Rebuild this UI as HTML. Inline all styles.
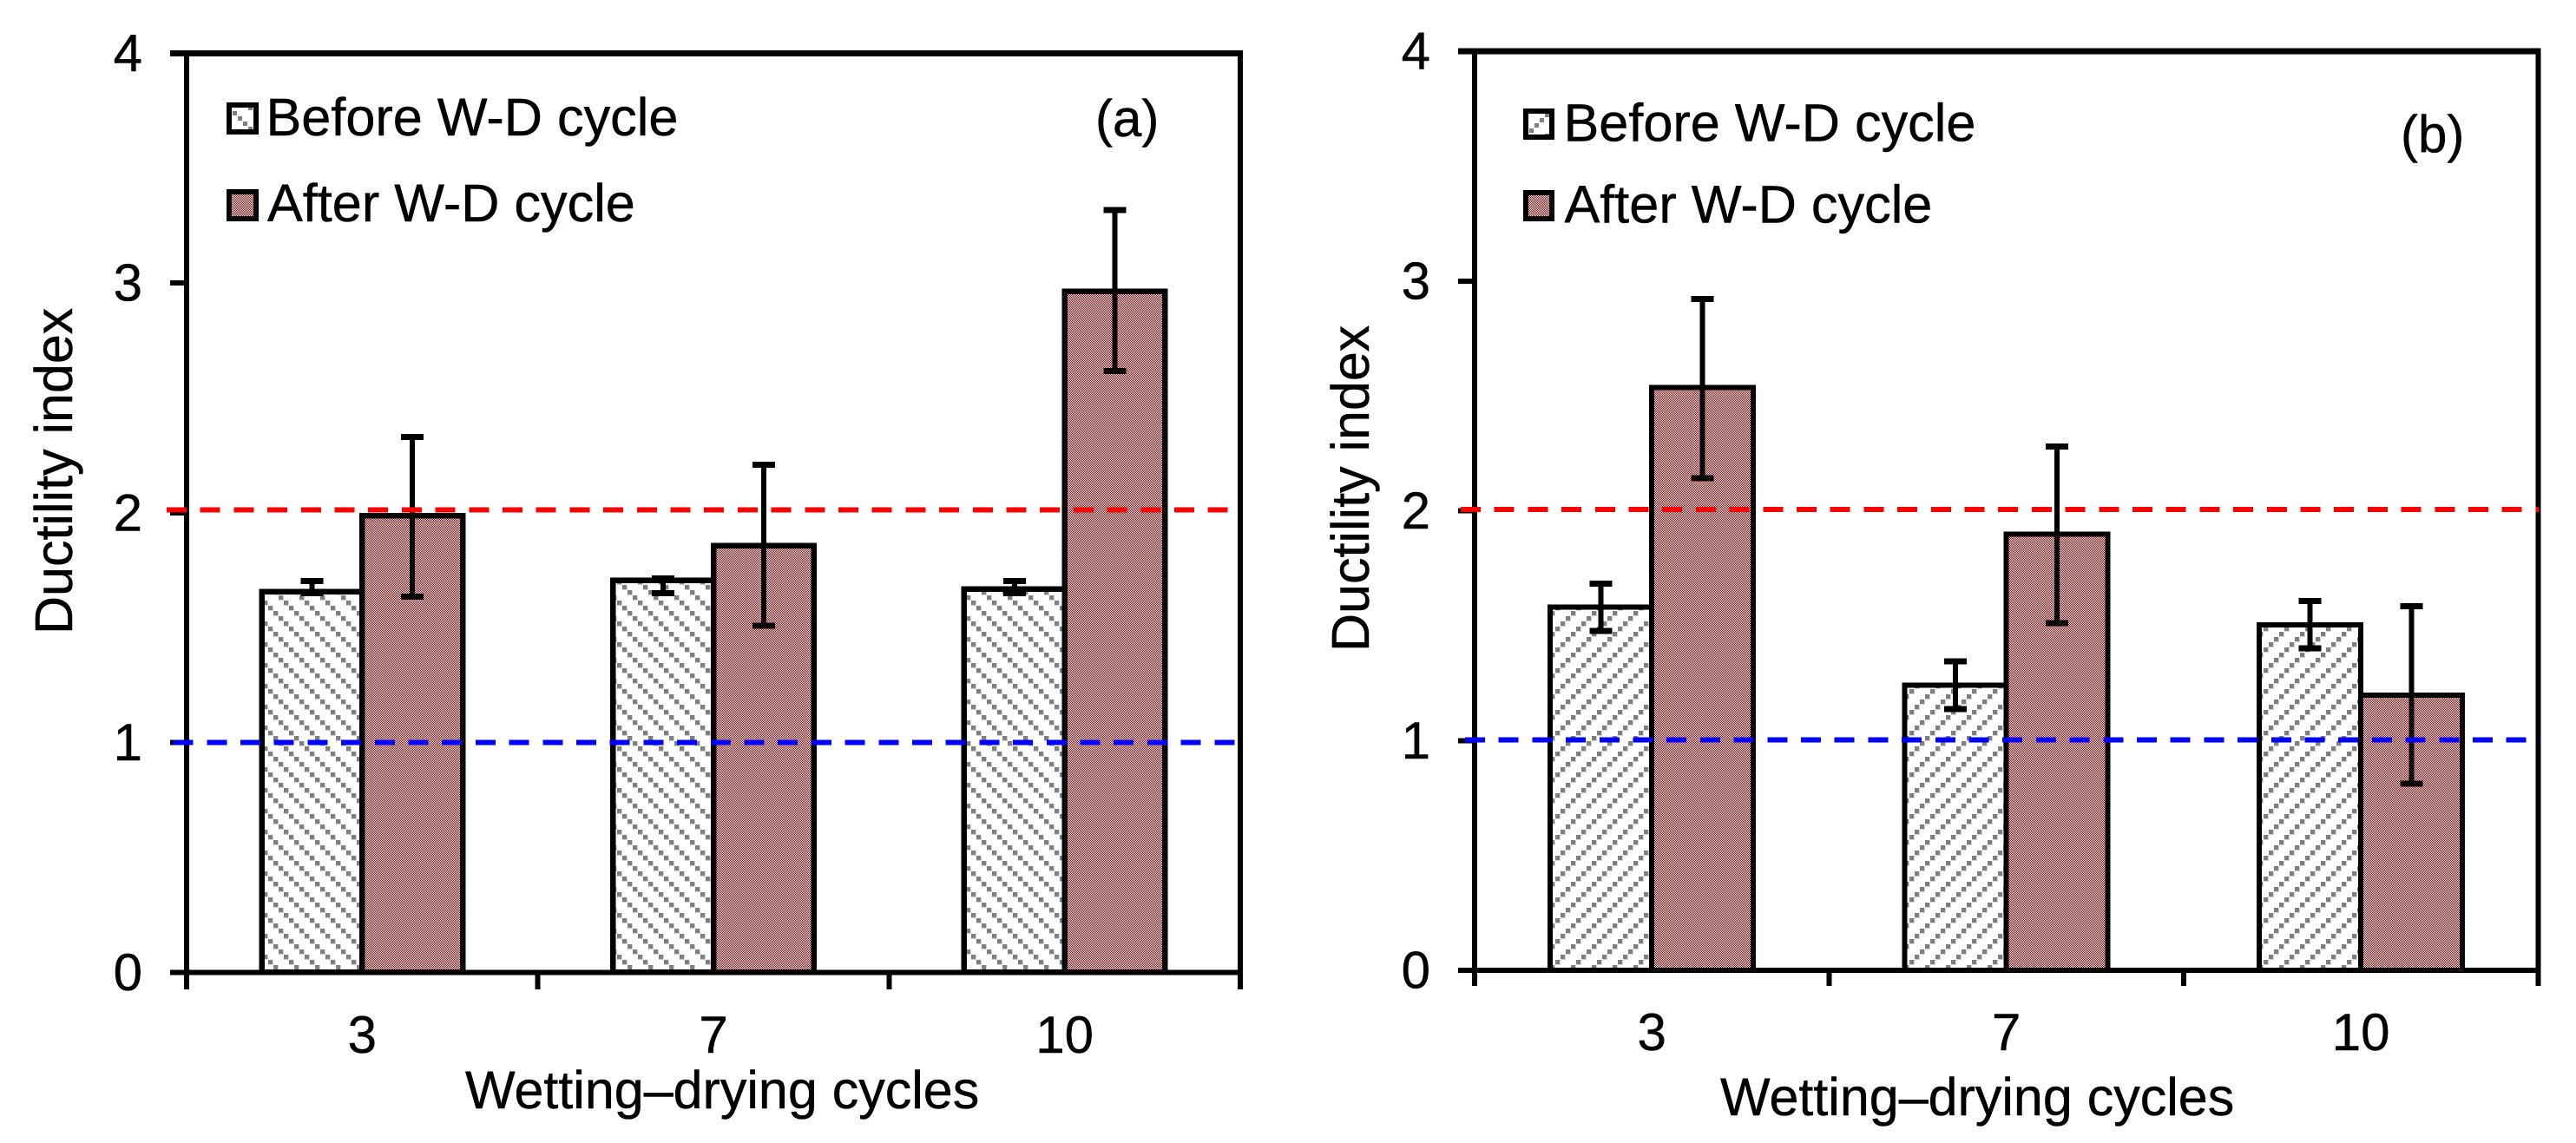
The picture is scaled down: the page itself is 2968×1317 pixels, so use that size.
<!DOCTYPE html>
<html lang="en">
<head>
<meta charset="utf-8">
<title>Ductility index vs wetting-drying cycles</title>
<style>
html,body{margin:0;padding:0;background:#fff;}
svg{display:block;}
text{font-family:"Liberation Sans",Arial,sans-serif;fill:#000;stroke:#000;stroke-width:0.45px;}
rect,line{shape-rendering:crispEdges;}
</style>
</head>
<body>
<svg id="figure" xmlns="http://www.w3.org/2000/svg" width="2968" height="1317" viewBox="0 0 2968 1317">
  <defs>
    <pattern id="red-dither" patternUnits="userSpaceOnUse" width="2" height="2">
      <rect width="2" height="2" fill="#ffffff"/>
      <rect x="0" y="0" width="1" height="1" fill="#c00000"/>
      <rect x="1" y="1" width="1" height="1" fill="#c00000"/>
    </pattern>
    <pattern id="hatch-a" patternUnits="userSpaceOnUse" width="24" height="24" patternTransform="translate(321 686)">
      <rect width="24" height="24" fill="#fff"/>
      <rect x="0" y="0" width="6" height="6" fill="#d4d4d4"/><rect x="0" y="0" width="5" height="5" fill="#808080"/>
      <rect x="6" y="6" width="6" height="6" fill="#d4d4d4"/><rect x="6" y="6" width="5" height="5" fill="#808080"/>
      <rect x="12" y="12" width="6" height="6" fill="#d4d4d4"/><rect x="12" y="12" width="5" height="5" fill="#808080"/>
      <rect x="18" y="18" width="6" height="6" fill="#d4d4d4"/><rect x="18" y="18" width="5" height="5" fill="#808080"/>
    </pattern>
    <pattern id="hatch-a-legend" patternUnits="userSpaceOnUse" width="24" height="24" patternTransform="translate(268 128)">
      <rect width="24" height="24" fill="#fff"/>
      <rect x="0" y="0" width="5" height="5" fill="#808080"/>
      <rect x="6" y="6" width="5" height="5" fill="#808080"/>
      <rect x="12" y="12" width="5" height="5" fill="#808080"/>
      <rect x="18" y="18" width="5" height="5" fill="#808080"/>
    </pattern>
    <pattern id="hatch-b" patternUnits="userSpaceOnUse" width="24" height="24" patternTransform="translate(1792 704)">
      <rect width="24" height="24" fill="#fff"/>
      <rect x="18" y="0" width="6" height="6" fill="#d4d4d4"/><rect x="18" y="0" width="5" height="5" fill="#808080"/>
      <rect x="12" y="6" width="6" height="6" fill="#d4d4d4"/><rect x="12" y="6" width="5" height="5" fill="#808080"/>
      <rect x="6" y="12" width="6" height="6" fill="#d4d4d4"/><rect x="6" y="12" width="5" height="5" fill="#808080"/>
      <rect x="0" y="18" width="6" height="6" fill="#d4d4d4"/><rect x="0" y="18" width="5" height="5" fill="#808080"/>
    </pattern>
    <pattern id="hatch-b-legend" patternUnits="userSpaceOnUse" width="24" height="24" patternTransform="translate(1762 130)">
      <rect width="24" height="24" fill="#fff"/>
      <rect x="18" y="0" width="5" height="5" fill="#808080"/>
      <rect x="12" y="6" width="5" height="5" fill="#808080"/>
      <rect x="6" y="12" width="5" height="5" fill="#808080"/>
      <rect x="0" y="18" width="5" height="5" fill="#808080"/>
    </pattern>
  </defs>

  <g id="panel-a"></g>
  <g id="panel-b"></g>

  <g>
    <text font-size="61" transform="translate(83 731) rotate(-90)">Ductility index</text>
    <text font-size="61" x="536" y="1277">Wetting–drying cycles</text>
    <text font-size="60" x="1262" y="157">(a)</text>
    <rect x="264" y="121" width="31" height="31" fill="url(#hatch-a-legend)" stroke="#000" stroke-width="6"/>
    <text font-size="61.2" x="306.5" y="156">Before W-D cycle</text>
    <rect x="264" y="221" width="31" height="31" fill="url(#red-dither)" stroke="#000" stroke-width="6"/>
    <text font-size="61.2" x="308" y="255">After W-D cycle</text>
  </g>

  <g>
    <text font-size="61" transform="translate(1577 751) rotate(-90)">Ductility index</text>
    <text font-size="61" x="1982" y="1285">Wetting–drying cycles</text>
    <text font-size="60" x="2766" y="175">(b)</text>
    <rect x="1758" y="128" width="30" height="30" fill="url(#hatch-b-legend)" stroke="#000" stroke-width="6"/>
    <text font-size="61.2" x="1801.5" y="162.5">Before W-D cycle</text>
    <rect x="1758" y="222" width="30" height="30" fill="url(#red-dither)" stroke="#000" stroke-width="6"/>
    <text font-size="61.2" x="1802.5" y="256.5">After W-D cycle</text>
  </g>
</svg>

<script>
// ---- data ----
const categories = ['3', '7', '10'];
const yTickLabels = ['0', '1', '2', '3', '4'];

const panelABefore     = [1.657, 1.706, 1.667];
const panelABeforeHigh = [1.703, 1.715, 1.702];
const panelABeforeLow  = [1.649, 1.650, 1.650];
const panelAAfter      = [1.987, 1.856, 2.964];
const panelAAfterHigh  = [2.330, 2.208, 3.317];
const panelAAfterLow   = [1.634, 1.508, 2.617];

const panelBBefore     = [1.580, 1.240, 1.504];
const panelBBeforeHigh = [1.682, 1.344, 1.607];
const panelBBeforeLow  = [1.477, 1.137, 1.402];
const panelBAfter      = [2.536, 1.898, 1.197];
const panelBAfterHigh  = [2.922, 2.280, 1.585];
const panelBAfterLow   = [2.142, 1.511, 0.812];

const panelARedLevel = 2.012;
const panelABlueLevel = 1.000;
const panelBRedLevel = 2.006;
const panelBBlueLevel = 1.002;

const SVG_NS = 'http://www.w3.org/2000/svg';

function make(parent, tag, props) {
  const el = document.createElementNS(SVG_NS, tag);
  for (const key in props) el.setAttribute(key, props[key]);
  parent.appendChild(el);
  return el;
}

function drawPanel(cfg) {
  const root = document.getElementById(cfg.id);
  const yMax = yTickLabels.length - 1;
  const yScale = function (v) { return cfg.yBase - (cfg.yBase - cfg.yTop) * v / yMax; };
  const groupWidth = (cfg.xRight - cfg.xLeft) / categories.length;
  const xCenter = function (i) { return cfg.xLeft + groupWidth * (i + 0.5); };

  // bars
  categories.forEach(function (cat, i) {
    const c = xCenter(i);
    const before = make(root, 'rect', {
      x: c - cfg.barWidth, y: yScale(cfg.before[i]),
      width: cfg.barWidth, height: cfg.yBase - yScale(cfg.before[i]),
      fill: 'url(#' + cfg.hatch + ')', stroke: '#000', 'stroke-width': cfg.barStroke
    });
    
    

    const after = make(root, 'rect', {
      x: c, y: yScale(cfg.after[i]),
      width: cfg.barWidth, height: cfg.yBase - yScale(cfg.after[i]),
      fill: 'url(#red-dither)', stroke: '#000', 'stroke-width': cfg.barStroke
    });
    
    
  });

  // error bars
  function errorBar(xc, high, low, label) {
    const g = make(root, 'g', { stroke: '#000', 'stroke-width': 6, fill: 'none' });
    
    
    make(g, 'line', { x1: xc, x2: xc, y1: yScale(high), y2: yScale(low) });
    make(g, 'line', { x1: xc - 13, x2: xc + 13, y1: yScale(high), y2: yScale(high), 'stroke-width': 7 });
    make(g, 'line', { x1: xc - 13, x2: xc + 13, y1: yScale(low), y2: yScale(low), 'stroke-width': 7 });
  }
  categories.forEach(function (cat, i) {
    const c = xCenter(i);
    errorBar(c - cfg.barWidth / 2, cfg.beforeHigh[i], cfg.beforeLow[i], 'error-bar-before-cycle-' + cat);
    errorBar(c + cfg.barWidth / 2, cfg.afterHigh[i], cfg.afterLow[i], 'error-bar-after-cycle-' + cat);
  });

  // axes
  const axisColor = '#000';
  const yAxis = make(root, 'line', { x1: cfg.xLeft, x2: cfg.xLeft, y1: cfg.yTop, y2: cfg.tickBottom, stroke: axisColor, 'stroke-width': 6 });
  
  

  const rightFrame = make(root, 'line', { x1: cfg.xRight, x2: cfg.xRight, y1: cfg.yTop, y2: cfg.tickBottom, stroke: axisColor, 'stroke-width': 6 });
  
  

  const topFrame = make(root, 'line', { x1: cfg.tickLeft, x2: cfg.xRight + 3, y1: cfg.yTop, y2: cfg.yTop, stroke: axisColor, 'stroke-width': 7 });
  
  

  const xAxis = make(root, 'line', { x1: cfg.tickLeft, x2: cfg.xRight + 3, y1: cfg.yBase, y2: cfg.yBase, stroke: axisColor, 'stroke-width': 6 });
  
  

  // y ticks and labels
  yTickLabels.forEach(function (label, i) {
    const y = yScale(i);
    if (i > 0 && i < yMax) {
      const tick = make(root, 'line', { x1: cfg.tickLeft, x2: cfg.xLeft, y1: y, y2: y, stroke: axisColor, 'stroke-width': 6 });
      
      
    }
    const t = make(root, 'text', { x: cfg.yLabelX, y: y + 20.5, 'text-anchor': 'end', 'font-size': 60 });
    t.textContent = label;
    
    
  });

  // x ticks and labels
  for (let k = 1; k < categories.length; k++) {
    const x = cfg.xLeft + groupWidth * k;
    const tick = make(root, 'line', { x1: x, x2: x, y1: cfg.yBase, y2: cfg.tickBottom, stroke: axisColor, 'stroke-width': 6 });
    
    
  }
  categories.forEach(function (cat, i) {
    const t = make(root, 'text', { x: xCenter(i), y: cfg.xLabelY, 'text-anchor': 'middle', 'font-size': 60 });
    t.textContent = cat;
    
    
  });

  // dashed reference lines
  const red = make(root, 'line', {
    x1: cfg.redStart, x2: cfg.redEnd, y1: yScale(cfg.redLevel), y2: yScale(cfg.redLevel),
    stroke: '#ff0000', 'stroke-width': 6, 'stroke-dasharray': '23 15.7'
  });
  
  

  const blue = make(root, 'line', {
    x1: cfg.blueStart, x2: cfg.blueEnd, y1: yScale(cfg.blueLevel), y2: yScale(cfg.blueLevel),
    stroke: '#0000ff', 'stroke-width': 6, 'stroke-dasharray': '23 15.7'
  });
  
  
}

drawPanel({
  id: 'panel-a', hatch: 'hatch-a',
  xLeft: 215, xRight: 1429, yTop: 61.3, yBase: 1120.3,
  tickLeft: 196, tickBottom: 1140, barWidth: 115.7, barStroke: 6.5,
  yLabelX: 164, xLabelY: 1213,
  before: panelABefore, beforeHigh: panelABeforeHigh, beforeLow: panelABeforeLow,
  after: panelAAfter, afterHigh: panelAAfterHigh, afterLow: panelAAfterLow,
  redLevel: panelARedLevel, blueLevel: panelABlueLevel,
  redStart: 192, redEnd: 1430, blueStart: 199.6, blueEnd: 1436
});

drawPanel({
  id: 'panel-b', hatch: 'hatch-b',
  xLeft: 1699, xRight: 2924.3, yTop: 59, yBase: 1118,
  tickLeft: 1680, tickBottom: 1136, barWidth: 117, barStroke: 6,
  yLabelX: 1648, xLabelY: 1210,
  before: panelBBefore, beforeHigh: panelBBeforeHigh, beforeLow: panelBBeforeLow,
  after: panelBAfter, afterHigh: panelBAfterHigh, afterLow: panelBAfterLow,
  redLevel: panelBRedLevel, blueLevel: panelBBlueLevel,
  redStart: 1683, redEnd: 2925, blueStart: 1688, blueEnd: 2927
});
</script>
</body>
</html>
